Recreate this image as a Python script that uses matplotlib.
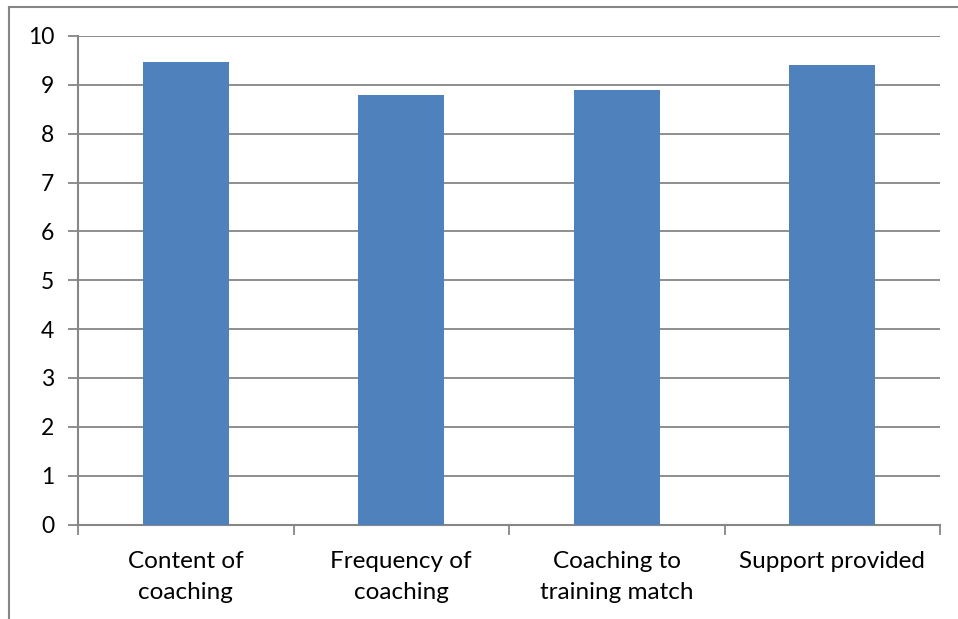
import matplotlib.pyplot as plt
import numpy as np
from matplotlib.lines import Line2D

categorias = ["Content of\ncoaching", "Frequency of\ncoaching", "Coaching to\ntraining match", "Support provided"]
valores = [9.47, 8.80, 8.90, 9.40]
ticks_y = list(range(0, 11))

ANCHO, ALTO = 958, 619
fig = plt.figure(figsize=(ANCHO / 100, ALTO / 100), dpi=100)
plt.rcParams["font.family"] = ["Lato", "DejaVu Sans"]

izq, der, arriba, abajo = 78, 940, 36, 524.5
ax = fig.add_axes([izq / ANCHO, 1 - abajo / ALTO, (der - izq) / ANCHO, (abajo - arriba) / ALTO])

gris = "#868686"
x = np.arange(len(categorias))
ax.bar(x, valores, width=0.4, color="#4f81bd", zorder=3)

ax.set_xlim(-0.5, len(categorias) - 0.5)
ax.set_ylim(0, 10)
ax.set_yticks(ticks_y)
ax.set_yticklabels([str(t) for t in ticks_y], fontsize=16.5)
ax.yaxis.grid(True, color=gris, linewidth=1.3, zorder=0)

ax.set_xticks(x)
ax.set_xticklabels(categorias, fontsize=17.5, linespacing=1.6)
ax.set_xticks(np.arange(-0.5, len(categorias)), minor=True)
ax.tick_params(axis="x", which="major", length=0, pad=19)
ax.tick_params(axis="x", which="minor", length=7, color=gris, width=1.3)
ax.tick_params(axis="y", length=7, color=gris, width=1.3, pad=10)

for lado in ["top", "right"]:
    ax.spines[lado].set_visible(False)
for lado in ["left", "bottom"]:
    ax.spines[lado].set_color(gris)
    ax.spines[lado].set_linewidth(1.5)

# marco exterior del gráfico
fig.add_artist(Line2D([8.5 / ANCHO, 1], [1 - 7 / ALTO, 1 - 7 / ALTO], color=gris, linewidth=1.5))
fig.add_artist(Line2D([8.5 / ANCHO, 8.5 / ANCHO], [0, 1 - 7 / ALTO], color=gris, linewidth=1.5))

fig.savefig("out.png", dpi=100)
